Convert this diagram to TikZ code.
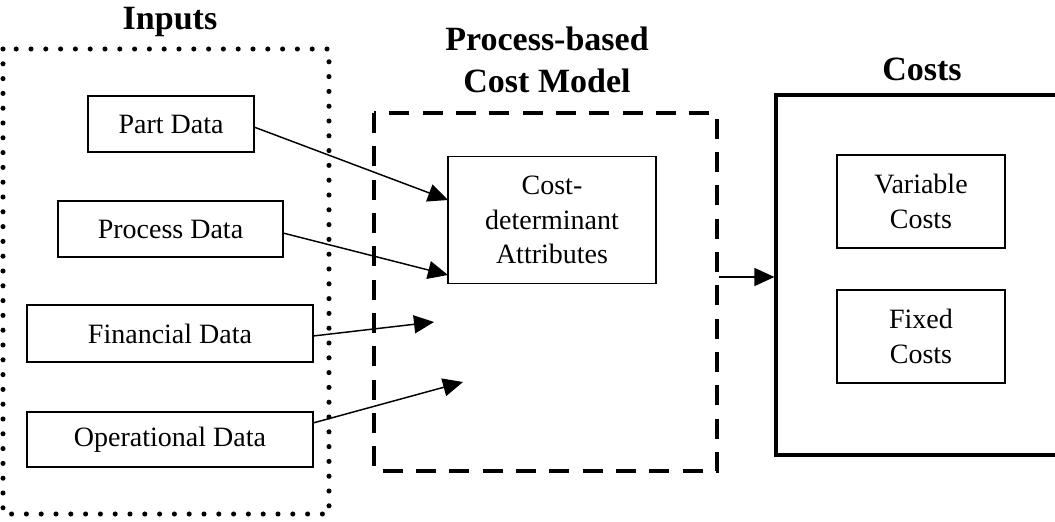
\documentclass[tikz,border=0pt]{standalone}
\usepackage{fontspec}
\setmainfont{Liberation Serif}
\usetikzlibrary{arrows.meta}
\begin{document}
\begin{tikzpicture}[x=0.75pt,y=-0.75pt,
  databox/.style={draw,line width=1.1pt,inner sep=0pt,font=\fontsize{21}{26}\selectfont,align=center},
  title/.style={font=\bfseries\fontsize{25.5}{32}\selectfont,align=center},
  flow/.style={line width=1.1pt,-{Triangle[length=15pt,width=13.5pt]}},
  dotbox/.style={line width=3.8pt,line cap=round,dash pattern=on 0pt off 11.1pt},
  dashbox/.style={line width=3.6pt,dash pattern=on 15pt off 10pt},
  costbox/.style={draw,line width=2.4pt,inner sep=0pt}]
\useasboundingbox (0,0) rectangle (1055,521);

% group frames
\draw[dotbox] (3,49) rectangle (329,514);
\draw[dashbox] (374,113) rectangle (717,471);
\node[costbox,minimum width=214.5pt,minimum height=270pt] (costs) at (919,275) {};

% titles
\node[title] (tin) at (170,22) {Inputs};
\node[title] (tmodel) at (547,60) {Process-based\\Cost Model};
\node[title] (tcost) at (922,69) {Costs};

% inputs
\node[databox,minimum width=124.5pt,minimum height=42pt] (part) at (171,124) {Part Data};
\node[databox,minimum width=169pt,minimum height=42pt] (proc) at (170.5,229) {Process Data};
\node[databox,minimum width=214.5pt,minimum height=42.5pt] (fin) at (170,333.5) {Financial Data};
\node[databox,minimum width=214.5pt,minimum height=41.5pt] (oper) at (170,439.5) {Operational Data};

% model
\node[databox,minimum width=156pt,minimum height=95pt] (cda) at (552,220) {Cost-\\determinant\\Attributes};

% costs
\node[databox,minimum width=126pt,minimum height=70pt] (var) at (921,201.5) {Variable\\Costs};
\node[databox,minimum width=126pt,minimum height=70pt] (fix) at (921,336.5) {Fixed\\Costs};

% arrow ends
\coordinate (s1) at (254,127);
\coordinate (e1) at (448,200);
\coordinate (s2) at (283,233);
\coordinate (e2) at (448,275);
\coordinate (s3) at (313,336);
\coordinate (e3) at (434,322);
\coordinate (s4) at (313,423);
\coordinate (e4) at (463,382);
\coordinate (mout) at (719,277);

\draw[flow] (s1) -- (e1);
\draw[flow] (s2) -- (e2);
\draw[flow] (s3) -- (e3);
\draw[flow] (s4) -- (e4);
\draw[flow] (mout) -- (costs.west |- mout);
\end{tikzpicture}
\end{document}
